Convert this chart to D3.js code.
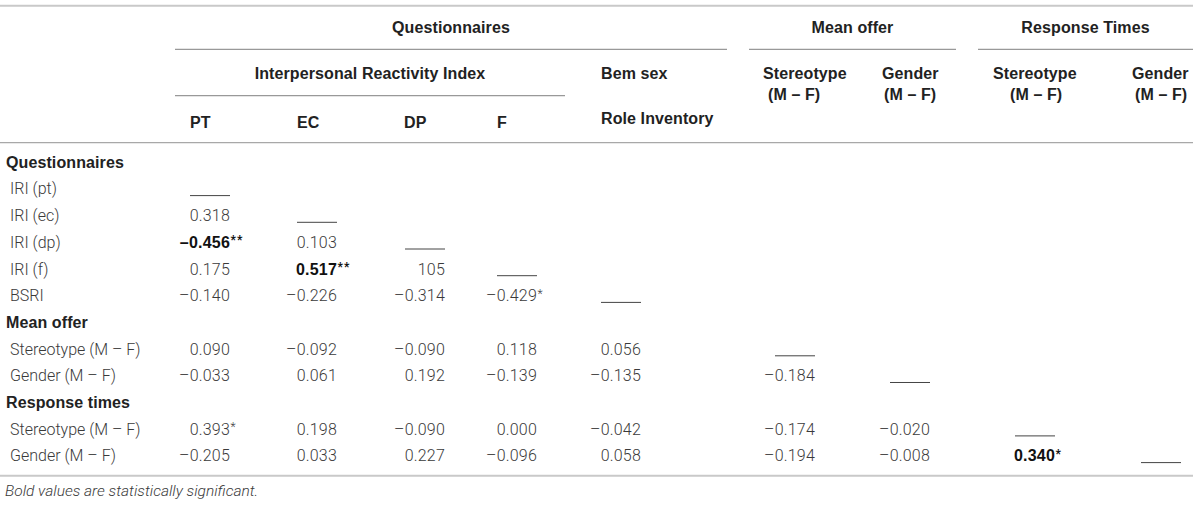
<!DOCTYPE html>
<html>
<head>
<meta charset="utf-8">
<script src="https://cdn.jsdelivr.net/npm/d3@7"></script>
<style>
  body { margin: 0; background: #fff; }
  svg { display: block; }
</style>
</head>
<body>
<div id="chart"></div>
<script>
// --- data ---
var colKeys = ["PT", "EC", "DP", "F", "BSRI", "MO_S", "MO_G", "RT_S", "RT_G"];
var colHeaders = [["PT"], ["EC"], ["DP"], ["F"], ["Bem sex", "Role Inventory"],
                  ["Stereotype", "(M – F)"], ["Gender", "(M – F)"],
                  ["Stereotype", "(M – F)"], ["Gender", "(M – F)"]];
var spanHeaders = ["Questionnaires", "Mean offer", "Response Times"];
var subSpanHeader = "Interpersonal Reactivity Index";
var groupLabels = ["Questionnaires", "Mean offer", "Response times"];
var rowLabels = ["IRI (pt)", "IRI (ec)", "IRI (dp)", "IRI (f)", "BSRI",
                 "Stereotype (M – F)", "Gender (M – F)",
                 "Stereotype (M – F)", "Gender (M – F)"];
var rowGroups = [0, 0, 0, 0, 0, 1, 1, 2, 2];
var values = [
  [],
  ["0.318"],
  ["–0.456", "0.103"],
  ["0.175", "0.517", "105"],
  ["–0.140", "–0.226", "–0.314", "–0.429"],
  ["0.090", "–0.092", "–0.090", "0.118", "0.056"],
  ["–0.033", "0.061", "0.192", "–0.139", "–0.135", "–0.184"],
  ["0.393", "0.198", "–0.090", "0.000", "–0.042", "–0.174", "–0.020"],
  ["–0.205", "0.033", "0.227", "–0.096", "0.058", "–0.194", "–0.008", "0.340"]
];
var stars = [
  [],
  [""],
  ["**", ""],
  ["", "**", ""],
  ["", "", "", "*"],
  ["", "", "", "", ""],
  ["", "", "", "", "", ""],
  ["*", "", "", "", "", "", ""],
  ["", "", "", "", "", "", "", "*"]
];
var boldCells = ["2-0", "3-1", "8-7"];
var footnote = "Bold values are statistically significant.";

// --- layout ---
var w = 1200, h = 507;
var colRight = [230, 337, 445, 537, 641, 815, 930, 1055, 1181];
var colHeadX = [[190], [297], [404], [497], [601, 601], [763, 768], [882, 884], [993, 1010], [1132, 1135]];
var colHeadY = [[128.3], [128.3], [128.3], [128.3], [78.5, 124], [78.5, 99.5], [78.5, 99.5], [78.5, 99.5], [78.5, 99.5]];
var spanExtent = [[175, 727], [749, 956], [978, 1193]];
var subSpanExtent = [175, 565];
var blankW = 40;

var headFont = "'Liberation Sans', Arial, sans-serif";
var bodyFont = "Roboto, 'Liberation Sans', sans-serif";

var svg = d3.select("#chart").append("svg")
  .attr("width", w)
  .attr("height", h);

// display lines: group header then its rows
var lines = [];
groupLabels.forEach(function (g, gi) {
  lines.push({ type: "group", label: g });
  rowLabels.forEach(function (r, ri) {
    if (rowGroups[ri] === gi) lines.push({ type: "row", label: r, row: ri });
  });
});

var y = d3.scalePoint().domain(d3.range(lines.length)).range([167.7, 461.4]);
var x = d3.scaleOrdinal().domain(colKeys).range(colRight);

// rules
function rule(x1, x2, yy, color, sw) {
  svg.append("line")
    .attr("x1", x1).attr("x2", x2)
    .attr("y1", yy).attr("y2", yy)
    .attr("stroke", color)
    .attr("stroke-width", sw);
}
rule(0, 1193, 5.7, "#c9c9c9", 2);
rule(0, 1193, 142.7, "#a8a8a8", 1.3);
rule(0, 1193, 475.7, "#c9c9c9", 2);
spanExtent.forEach(function (e) { rule(e[0], e[1], 49.3, "#999", 1.3); });
rule(subSpanExtent[0], subSpanExtent[1], 95.7, "#999", 1.3);

// header texts
var head = svg.append("g")
  .attr("font-family", headFont)
  .attr("font-weight", "bold")
  .attr("font-size", 16)
  .attr("letter-spacing", 0.1)
  .attr("fill", "#222");

head.selectAll("text.span")
  .data(spanHeaders)
  .enter().append("text")
  .attr("class", "span")
  .attr("x", function (d, i) { return (spanExtent[i][0] + spanExtent[i][1]) / 2; })
  .attr("y", 32.5)
  .attr("text-anchor", "middle")
  .text(function (d) { return d; });

head.append("text")
  .attr("x", (subSpanExtent[0] + subSpanExtent[1]) / 2)
  .attr("y", 78.5)
  .attr("text-anchor", "middle")
  .text(subSpanHeader);

colHeaders.forEach(function (parts, ci) {
  head.selectAll(null)
    .data(parts)
    .enter().append("text")
    .attr("x", function (d, k) { return colHeadX[ci][k]; })
    .attr("y", function (d, k) { return colHeadY[ci][k]; })
    .text(function (d) { return d; });
});

// body
var body = svg.append("g")
  .attr("font-family", bodyFont)
  .attr("font-size", 16);

var lineG = body.selectAll("g.line")
  .data(lines)
  .enter().append("g")
  .attr("class", "line")
  .attr("transform", function (d, i) { return "translate(0," + y(i) + ")"; });

lineG.append("text")
  .attr("x", function (d) { return d.type === "group" ? 6 : 10; })
  .attr("font-family", function (d) { return d.type === "group" ? headFont : bodyFont; })
  .attr("font-weight", function (d) { return d.type === "group" ? "bold" : 300; })
  .attr("letter-spacing", function (d) { return d.type === "group" ? 0.1 : 0; })
  .attr("fill", function (d) { return d.type === "group" ? "#222" : "#3a3a3a"; })
  .text(function (d) { return d.label; });

var rowG = lineG.filter(function (d) { return d.type === "row"; });

// values
var cells = rowG.selectAll("g.cell")
  .data(function (d) {
    return values[d.row].map(function (v, ci) {
      return { v: v, s: stars[d.row][ci], key: colKeys[ci], bold: boldCells.indexOf(d.row + "-" + ci) >= 0 };
    });
  })
  .enter().append("g")
  .attr("class", "cell");

cells.append("text")
  .attr("x", function (d) { return x(d.key); })
  .attr("text-anchor", "end")
  .attr("font-family", function (d) { return d.bold ? headFont : bodyFont; })
  .attr("font-weight", function (d) { return d.bold ? "bold" : 300; })
  .attr("letter-spacing", 0.2)
  .attr("fill", function (d) { return d.bold ? "#111" : "#3a3a3a"; })
  .text(function (d) { return d.v; });

cells.filter(function (d) { return d.s; })
  .append("text")
  .attr("x", function (d) { return x(d.key) + 0.5; })
  .attr("y", -3.5)
  .attr("font-size", 12)
  .attr("font-weight", function (d) { return d.bold ? "bold" : 300; })
  .attr("letter-spacing", 1)
  .attr("fill", function (d) { return d.bold ? "#111" : "#3a3a3a"; })
  .text(function (d) { return d.s; });

// diagonal blanks
rowG.append("line")
  .attr("x1", function (d) { return x(colKeys[d.row]) - blankW; })
  .attr("x2", function (d) { return x(colKeys[d.row]); })
  .attr("y1", 1.2)
  .attr("y2", 1.2)
  .attr("stroke", "#444")
  .attr("stroke-width", 1);

// footnote
svg.append("text")
  .attr("x", 5)
  .attr("y", 496)
  .attr("font-family", bodyFont)
  .attr("font-weight", 300)
  .attr("font-style", "italic")
  .attr("font-size", 15.5)
  .attr("fill", "#3a3a3a")
  .text(footnote);
</script>
</body>
</html>
